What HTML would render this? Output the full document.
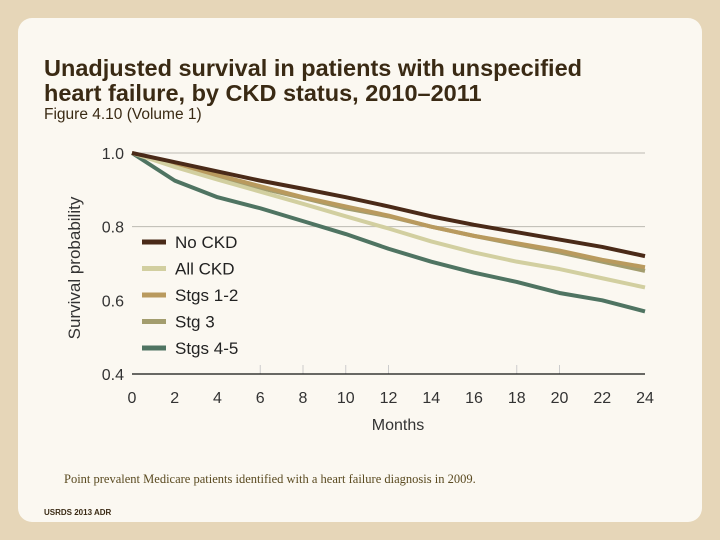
<!DOCTYPE html>
<html><head><meta charset="utf-8"><style>
body{margin:0;width:720px;height:540px;overflow:hidden;background:#e6d6b8;font-family:"Liberation Sans",sans-serif;}
#panel{position:absolute;left:18px;top:18px;width:684px;height:504px;background:#fbf8f1;border-radius:14px;}
.t{position:absolute;color:#3a2a14;}
</style></head><body>
<div id="panel"></div>
<div class="t" style="left:44px;top:56px;font-size:23.5px;font-weight:bold;line-height:25px;">Unadjusted survival in patients with unspecified<br>heart failure, by CKD status, 2010–2011</div>
<div class="t" style="left:44px;top:106px;font-size:15.5px;">Figure 4.10 (Volume 1)</div>
<div class="t" style="left:64px;top:472px;font-size:12.5px;font-family:'Liberation Serif',serif;color:#5a4a20;">Point prevalent Medicare patients identified with a heart failure diagnosis in 2009.</div>
<div class="t" style="left:44px;top:508px;font-size:8px;font-weight:bold;">USRDS 2013 ADR</div>
<svg id="chart" width="720" height="540" style="position:absolute;left:0;top:0"></svg>
<script>
const months=[0,2,4,6,8,10,12,14,16,18,20,22,24];
const noCKD=[1,.975,.95,.925,.903,.88,.855,.828,.805,.785,.765,.745,.72];
const allCKD=[1,.962,.928,.895,.862,.828,.795,.76,.73,.705,.685,.66,.635];
const stg12=[1,.968,.94,.91,.88,.855,.83,.80,.775,.755,.735,.71,.69];
const stg3=[1,.965,.935,.905,.878,.85,.828,.80,.775,.752,.73,.705,.68];
const stg45=[1,.925,.88,.85,.815,.78,.74,.705,.675,.65,.62,.60,.57];
const yTicks=[0.4,0.6,0.8,1.0];
const xTicks=[0,2,4,6,8,10,12,14,16,18,20,22,24];
const seriesNames=["No CKD","All CKD","Stgs 1-2","Stg 3","Stgs 4-5"];
const seriesData=[noCKD,allCKD,stg12,stg3,stg45];
const colors=["#4a2a18","#d2cfa0","#b99a5e","#a39d6e","#4f7462"];
const svg=document.getElementById('chart');const NS='http://www.w3.org/2000/svg';
const X=m=>132+m*(645-132)/24, Y=v=>374-(v-0.4)*(374-153)/0.6;
function mk(t,a){const e=document.createElementNS(NS,t);for(const k in a)e.setAttribute(k,a[k]);svg.appendChild(e);return e;}
[0.8,1.0].forEach(v=>{const g=mk('line',{x1:X(0),x2:X(24),y1:Y(v),y2:Y(v),stroke:'#bdbab2','stroke-width':1});

});
yTicks.forEach(v=>{const t=mk('text',{x:124,y:Y(v)+6,'text-anchor':'end','font-size':16,fill:'#333'});t.textContent=v.toFixed(1);

});
xTicks.forEach(m=>{const t=mk('text',{x:X(m),y:403,'text-anchor':'middle','font-size':16,fill:'#333'});t.textContent=m;

});
[6,8,10,12,18,20].forEach(m=>{const l=mk('line',{x1:X(m),x2:X(m),y1:Y(0.4)-9,y2:Y(0.4),stroke:'#ccc'});

});
const ax=mk('line',{x1:X(0),x2:X(24),y1:Y(0.4),y2:Y(0.4),stroke:'#111','stroke-width':1.2});


const xt=mk('text',{x:398,y:430,'text-anchor':'middle','font-size':16,fill:'#333'});xt.textContent='Months';


const yt=mk('text',{x:0,y:0,'text-anchor':'middle','font-size':17,fill:'#333',transform:'translate(80,268) rotate(-90)'});yt.textContent='Survival probability';


for(let i=seriesData.length-1;i>=0;i--){const d=seriesData[i].map((v,j)=>(j?'L':'M')+X(months[j])+','+Y(v)).join('');
const p=mk('path',{d:d,fill:'none',stroke:colors[i],'stroke-width':4,'stroke-linejoin':'round'});

}
seriesNames.forEach((n,i)=>{const y=242+i*26.5;
const l=mk('line',{x1:142,x2:166,y1:y,y2:y,stroke:colors[i],'stroke-width':5});


const t=mk('text',{x:175,y:y+6,'font-size':17,fill:'#222'});t.textContent=n;

});
</script>
</body></html>
